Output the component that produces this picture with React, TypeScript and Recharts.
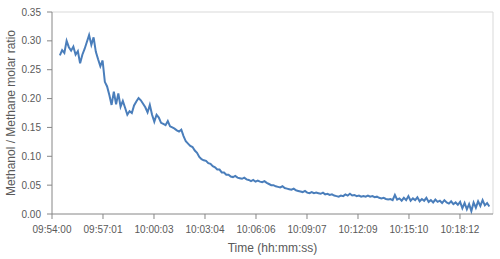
import { LineChart, Line, XAxis, YAxis, ReferenceLine, Label } from 'recharts'

// seconds after 09:54:00 of the first sample, and the sampling interval (s)
const sampleStart = 28
const sampleStep = 8

// Methanol / methane molar ratio
const ratio = [
  0.275, 0.284, 0.279, 0.300, 0.289, 0.283, 0.290, 0.276, 0.282, 0.261,
  0.276, 0.286, 0.298, 0.310, 0.293, 0.306, 0.281, 0.268, 0.256, 0.266,
  0.229, 0.221, 0.206, 0.189, 0.212, 0.190, 0.209, 0.186, 0.196, 0.184,
  0.172, 0.178, 0.175, 0.188, 0.195, 0.201, 0.197, 0.191, 0.185, 0.176,
  0.189, 0.172, 0.160, 0.172, 0.167, 0.158, 0.156, 0.154, 0.161, 0.152,
  0.150, 0.148, 0.145, 0.143, 0.146, 0.135, 0.126, 0.122, 0.118, 0.116,
  0.110, 0.106, 0.099, 0.095, 0.093, 0.092, 0.088, 0.087, 0.083, 0.081,
  0.077, 0.077, 0.072, 0.072, 0.068, 0.068, 0.065, 0.064, 0.066, 0.063,
  0.062, 0.061, 0.063, 0.060, 0.059, 0.057, 0.059, 0.056, 0.058, 0.056,
  0.055, 0.057, 0.054, 0.052, 0.050, 0.050, 0.048, 0.047, 0.046, 0.048,
  0.045, 0.044, 0.043, 0.042, 0.044, 0.041, 0.040, 0.039, 0.038, 0.040,
  0.037, 0.036, 0.038, 0.036, 0.037, 0.036, 0.035, 0.037, 0.034, 0.035,
  0.033, 0.034, 0.032, 0.031, 0.030, 0.032, 0.031, 0.034, 0.032, 0.035,
  0.032, 0.033, 0.031, 0.032, 0.030, 0.031, 0.030, 0.032, 0.030, 0.031,
  0.029, 0.030, 0.028, 0.027, 0.028, 0.026, 0.025, 0.026, 0.024, 0.033,
  0.025, 0.027, 0.023, 0.028, 0.024, 0.031, 0.023, 0.027, 0.024, 0.029,
  0.022, 0.026, 0.023, 0.028, 0.021, 0.024, 0.020, 0.025, 0.021, 0.023,
  0.019, 0.024, 0.020, 0.018, 0.022, 0.017, 0.020, 0.016, 0.021, 0.010,
  0.019, 0.008, 0.017, 0.005, 0.020, 0.011, 0.022, 0.014, 0.024, 0.015,
  0.019, 0.013,
]

const xMax = 1569
const xTicks = [0, 181.44, 362.88, 544.32, 725.76, 907.2, 1088.64, 1270.08, 1451.52]
const yTicks = [0, 0.05, 0.1, 0.15, 0.2, 0.25, 0.3, 0.35]

const data = ratio.map((v, i) => ({ t: sampleStart + i * sampleStep, v }))

const pad = (n: number) => String(n).padStart(2, '0')
const fmtTime = (s: number) => {
  const total = 9 * 3600 + 54 * 60 + Math.round(s)
  const h = Math.floor(total / 3600)
  const m = Math.floor((total % 3600) / 60)
  const sec = total % 60
  return `${pad(h)}:${pad(m)}:${pad(sec)}`
}

const textColor = '#595959'
const axisColor = '#868686'

export default function App() {
  return (
    <div style={{ position: 'absolute', left: 0, top: 0, fontFamily: 'Liberation Sans', background: '#fff' }}>
      <LineChart width={500} height={259} data={data} margin={{ top: 12, right: 7, bottom: 0, left: 0 }}>
        <ReferenceLine y={0.35} stroke="#d9d9d9" />
        <ReferenceLine x={xMax} stroke="#d9d9d9" />
        <XAxis
          dataKey="t"
          type="number"
          domain={[0, xMax]}
          ticks={xTicks}
          tickFormatter={fmtTime}
          height={45}
          tickSize={5}
          tickMargin={7}
          stroke={axisColor}
          tick={{ fontSize: 10, fill: textColor }}
          interval={0}
        >
          <Label value="Time (hh:mm:ss)" position="insideBottom" offset={7} style={{ fontSize: 12, fill: textColor }} />
        </XAxis>
        <YAxis
          type="number"
          domain={[0, 0.35]}
          ticks={yTicks}
          tickFormatter={(v: number) => v.toFixed(2)}
          width={52}
          tickSize={5}
          tickMargin={6}
          stroke={axisColor}
          tick={{ fontSize: 10, fill: textColor }}
          interval={0}
        >
          <Label
            value="Methanol / Methane molar ratio"
            angle={-90}
            position="insideLeft"
            offset={11}
            style={{ fontSize: 12, fill: textColor, textAnchor: 'middle' }}
          />
        </YAxis>
        <Line
          type="linear"
          dataKey="v"
          stroke="#4a7ebb"
          strokeWidth={2}
          dot={false}
          isAnimationActive={false}
        />
      </LineChart>
    </div>
  )
}
